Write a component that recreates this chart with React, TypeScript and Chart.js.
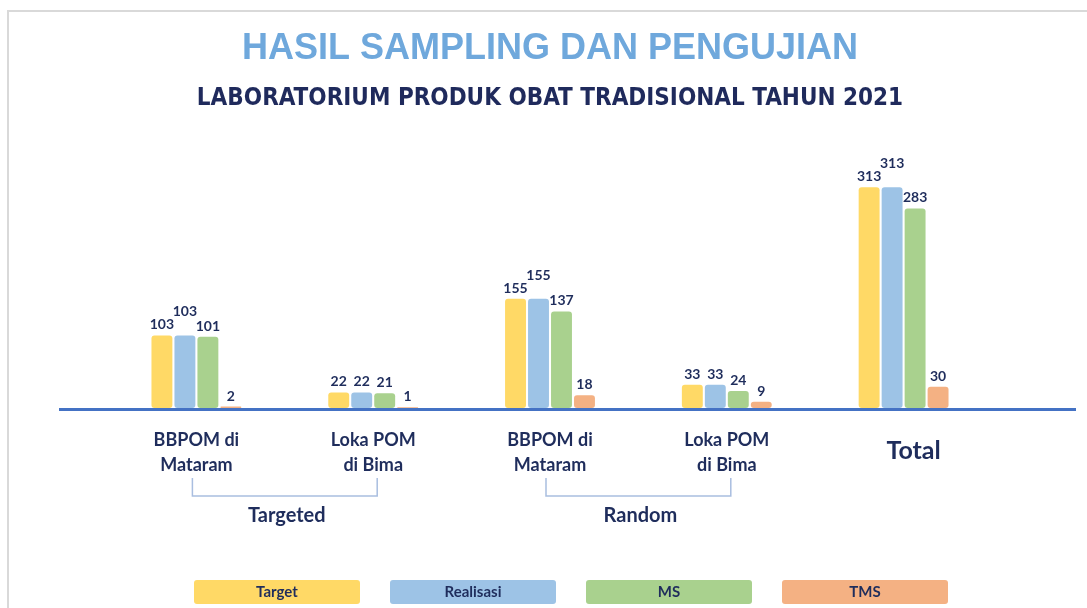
import React, { useEffect, useRef } from 'react';
import { Chart, registerables } from 'chart.js';

Chart.register(...registerables);

const categories: string[][] = [
  ['BBPOM di', 'Mataram'],
  ['Loka POM', 'di Bima'],
  ['BBPOM di', 'Mataram'],
  ['Loka POM', 'di Bima'],
  ['Total'],
];
const groupLabels = ['Targeted', 'Random'];
const groupRanges: number[][] = [
  [0, 1],
  [2, 3],
];
const seriesNames = ['Target', 'Realisasi', 'MS', 'TMS'];
const target = [103, 22, 155, 33, 313];
const realisasi = [103, 22, 155, 33, 313];
const ms = [101, 21, 137, 24, 283];
const tms = [2, 1, 18, 9, 30];
const seriesColors = ['#FFD966', '#9DC3E6', '#A9D18E', '#F4B183'];

const NAVY = '#1F2D5C';
const FONT = 'Lato, "Open Sans", sans-serif';

const overlayPlugin = {
  id: 'overlay',
  beforeDraw(chart: any) {
    const { ctx } = chart;
    ctx.save();
    ctx.fillStyle = '#ffffff';
    ctx.fillRect(0, 0, chart.width, chart.height);
    ctx.strokeStyle = '#D9D9D9';
    ctx.lineWidth = 2;
    ctx.beginPath();
    ctx.moveTo(8, chart.height);
    ctx.lineTo(8, 11);
    ctx.lineTo(chart.width, 11);
    ctx.stroke();
    ctx.restore();
  },
  afterDatasetsDraw(chart: any) {
    const { ctx } = chart;
    const x = chart.scales.x;
    const y = chart.scales.y;
    const y0 = y.getPixelForValue(0);
    ctx.save();

    // baseline
    ctx.strokeStyle = '#4472C4';
    ctx.lineWidth = 3;
    ctx.beginPath();
    ctx.moveTo(59, y0 + 1.5);
    ctx.lineTo(1076, y0 + 1.5);
    ctx.stroke();

    // value labels
    ctx.font = `bold 14px ${FONT}`;
    ctx.fillStyle = NAVY;
    ctx.textAlign = 'center';
    ctx.textBaseline = 'alphabetic';
    const n = chart.data.labels.length;
    for (let i = 0; i < n; i++) {
      let prev: any = null;
      chart.data.datasets.forEach((ds: any, d: number) => {
        const el = chart.getDatasetMeta(d).data[i];
        const text = String(ds.data[i]);
        const w = ctx.measureText(text).width;
        const h = 10;
        let base = el.y - 6;
        if (prev && prev.right + 3 > el.x - w / 2 && base > prev.top && base - h < prev.base) {
          base = prev.top - 3;
        }
        ctx.fillText(text, el.x, base);
        prev = { right: el.x + w / 2, top: base - h, base };
      });
    }

    // category labels
    ctx.textBaseline = 'middle';
    categories.forEach((lines, i) => {
      const cx = x.getPixelForValue(i);
      if (lines.length === 1) {
        ctx.font = `bold 25px ${FONT}`;
        ctx.fillText(lines[0], cx + 10, 451);
      } else {
        ctx.font = `bold 18px ${FONT}`;
        lines.forEach((t, k) => ctx.fillText(t, cx, 440 + k * 25));
      }
    });

    // group brackets
    groupLabels.forEach((label, g) => {
      const [a, b] = groupRanges[g];
      const ca = x.getPixelForValue(a);
      const cb = x.getPixelForValue(b);
      const mid = (ca + cb) / 2;
      const half = (cb - ca) / 2 + 4;
      ctx.strokeStyle = '#A9BEE0';
      ctx.lineWidth = 1.5;
      ctx.beginPath();
      ctx.moveTo(mid - half, 478);
      ctx.lineTo(mid - half, 496);
      ctx.lineTo(mid + half, 496);
      ctx.lineTo(mid + half, 478);
      ctx.stroke();
      ctx.font = `bold 20px ${FONT}`;
      ctx.fillStyle = NAVY;
      ctx.fillText(label, mid + 2, 516);
    });

    // legend boxes
    chart.data.datasets.forEach((ds: any, d: number) => {
      const cx = 277 + d * 196;
      const bw = 166;
      const bh = 24;
      ctx.fillStyle = ds.backgroundColor;
      ctx.beginPath();
      ctx.roundRect(cx - bw / 2, 580, bw, bh, 3);
      ctx.fill();
      ctx.fillStyle = NAVY;
      ctx.font = `bold 15px ${FONT}`;
      ctx.fillText(ds.label, cx, 592.5);
    });

    ctx.restore();
  },
};

export default function App() {
  const ref = useRef<HTMLCanvasElement | null>(null);

  useEffect(() => {
    if (!ref.current) return;
    const seriesValues = [target, realisasi, ms, tms];
    const chart = new Chart(ref.current, {
      type: 'bar',
      data: {
        labels: categories.map((c) => c.join(' ')),
        datasets: seriesNames.map((name, i) => ({
          label: name,
          data: seriesValues[i],
          backgroundColor: seriesColors[i],
          borderRadius: 3,
          borderSkipped: false,
          categoryPercentage: 0.52,
          barPercentage: 0.91,
        })),
      },
      options: {
        responsive: false,
        animation: false,
        devicePixelRatio: 1,
        layout: { padding: { left: 108, right: 95, top: 0, bottom: 200 } },
        plugins: {
          legend: { display: false },
          tooltip: { enabled: false },
          title: {
            display: true,
            text: 'HASIL SAMPLING DAN PENGUJIAN',
            color: '#6FA8DC',
            font: { family: '"Liberation Sans", Arial, sans-serif', size: 36, weight: 'bold', lineHeight: 1.2 },
            padding: { top: 27, bottom: 0 },
          },
          subtitle: {
            display: true,
            text: 'LABORATORIUM PRODUK OBAT TRADISIONAL TAHUN 2021',
            color: '#1F2A5C',
            font: { family: '"DejaVu Sans Condensed", "Liberation Sans", sans-serif', size: 24, weight: 'bold', lineHeight: 1.2 },
            padding: { top: 14, bottom: 13 },
          },
        },
        scales: {
          x: { display: false },
          y: { display: false, min: 0, max: 400 },
        },
      },
      plugins: [overlayPlugin],
    } as any);
    return () => chart.destroy();
  }, []);

  return (
    <div style={{ position: 'fixed', left: 0, top: 0, width: 1087, height: 608, background: '#fff' }}>
      <canvas ref={ref} width={1087} height={608} style={{ display: 'block' }} />
    </div>
  );
}
